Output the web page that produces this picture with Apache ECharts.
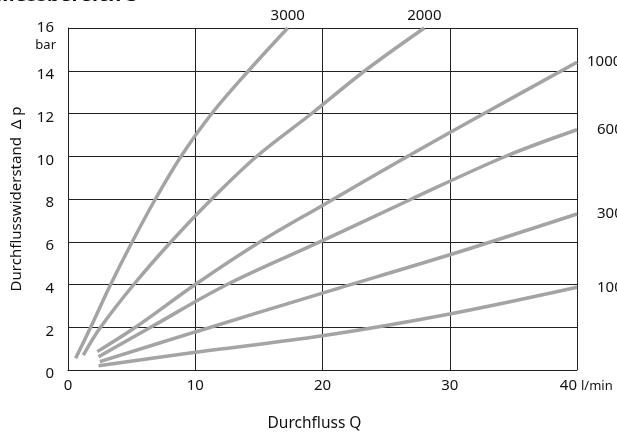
<!DOCTYPE html>
<html>
<head>
<meta charset="utf-8">
<script src="https://cdn.jsdelivr.net/npm/echarts@6/dist/echarts.min.js"></script>
<style>
  html, body { margin: 0; padding: 0; background: #fff; }
  #chart { width: 617px; height: 439px; }
</style>
</head>
<body>
<div id="chart"></div>
<script>
// Pressure drop Δp [bar] over flow Q [l/min], one curve per setting
const curveNames = ['3000', '2000', '1000', '600', '300', '100'];

const q3000 = [[0.6, 0.55], [1.78, 2], [3.35, 4], [5.05, 6], [6.87, 8], [8.89, 10], [11.3, 12], [14.19, 14], [17.27, 16]];
const q2000 = [[1.2, 0.7], [2.56, 2], [5.17, 4], [8.1, 6], [11.3, 8], [14.84, 10], [19.15, 12], [23.33, 14], [28.0, 16]];
const q1000 = [[2.3, 0.86], [5.3, 2], [10, 4], [15.1, 6], [20, 7.7], [26.7, 10], [32.7, 12], [40, 14.4]];
const q600  = [[2.4, 0.62], [6.5, 2], [12.5, 4], [20, 6.05], [27, 8], [34.4, 10], [40, 11.24]];
const q300  = [[2.5, 0.39], [10, 1.78], [20, 3.6], [30, 5.39], [40, 7.3]];
const q100  = [[2.4, 0.2], [10, 0.83], [20, 1.6], [30, 2.62], [40, 3.87]];

const curveData = [q3000, q2000, q1000, q600, q300, q100];

const xTicks = [0, 10, 20, 30, 40];
const yTicks = [0, 2, 4, 6, 8, 10, 12, 14, 16];

// where each curve's name sits relative to its last point
const labelPlacement = [
  { position: 'top', distance: 5 },
  { position: 'top', distance: 5 },
  { position: 'right', distance: 10 },
  { position: 'right', distance: 20 },
  { position: 'right', distance: 20 },
  { position: 'right', distance: 20 }
];

const FONT = 'Noto Sans';
const CURVE_COLOR = '#a4a4a4';
const GRID_COLOR = '#222';
const TEXT_COLOR = '#111';

const chart = echarts.init(document.getElementById('chart'), null, { renderer: 'canvas' });

const series = curveData.map((pts, i) => {
  const last = pts[pts.length - 1];
  return {
    name: curveNames[i],
    type: 'line',
    data: pts,
    smooth: 0.35,
    showSymbol: false,
    symbol: 'none',
    clip: false,
    lineStyle: { color: CURVE_COLOR, width: 3.5 },
    markPoint: {
      symbol: 'circle',
      symbolSize: 0,
      silent: true,
      data: [{ coord: last }],
      label: {
        show: true,
        formatter: curveNames[i],
        position: labelPlacement[i].position,
        distance: labelPlacement[i].distance,
        color: TEXT_COLOR,
        fontFamily: FONT,
        fontSize: 15
      }
    }
  };
});

chart.setOption({
  animation: false,
  backgroundColor: '#fff',
  grid: { left: 68, right: 40, top: 28, bottom: 69, containLabel: false },
  xAxis: {
    type: 'value',
    min: xTicks[0],
    max: xTicks[xTicks.length - 1],
    interval: xTicks[1] - xTicks[0],
    name: 'Durchfluss Q',
    nameLocation: 'middle',
    nameGap: 46,
    nameTextStyle: { color: TEXT_COLOR, fontFamily: FONT, fontSize: 15.5, padding: [0, 16, 0, 0] },
    axisLine: { show: true, lineStyle: { color: GRID_COLOR, width: 1 } },
    axisTick: { show: false },
    axisLabel: { color: TEXT_COLOR, fontFamily: FONT, fontSize: 15, margin: 8, alignMaxLabel: 'right' },
    splitLine: { show: true, lineStyle: { color: GRID_COLOR, width: 1 } }
  },
  yAxis: {
    type: 'value',
    min: yTicks[0],
    max: yTicks[yTicks.length - 1],
    interval: yTicks[1] - yTicks[0],
    name: 'Durchflusswiderstand  Δ p',
    nameLocation: 'middle',
    nameGap: 44,
    nameRotate: 90,
    nameTextStyle: { color: TEXT_COLOR, fontFamily: FONT, fontSize: 15 },
    axisLine: { show: true, lineStyle: { color: GRID_COLOR, width: 1 } },
    axisTick: { show: false },
    axisLabel: {
      color: TEXT_COLOR,
      fontFamily: FONT,
      fontSize: 15,
      margin: 14,
      formatter: v => v === 16 ? '{t|16}' : '{m|' + v + '}',
      rich: {
        t: { fontFamily: FONT, fontSize: 15, color: TEXT_COLOR },
        m: { fontFamily: FONT, fontSize: 15, color: TEXT_COLOR, padding: [8, 0, 0, 0] }
      }
    },
    splitLine: { show: true, lineStyle: { color: GRID_COLOR, width: 1 } }
  },
  graphic: [
    {
      type: 'text',
      left: -4,
      top: -15,
      style: { text: 'Messbereich 3', font: 'bold 20px "Noto Sans"', fill: TEXT_COLOR }
    },
    {
      type: 'text',
      right: 561,
      top: 39,
      style: { text: 'bar', font: '13px "Noto Sans"', fill: TEXT_COLOR, textAlign: 'right' }
    },
    {
      type: 'text',
      left: 581,
      top: 380,
      style: { text: 'l/min', font: '13px "Noto Sans"', fill: TEXT_COLOR }
    }
  ],
  series: series
});
</script>
</body>
</html>
